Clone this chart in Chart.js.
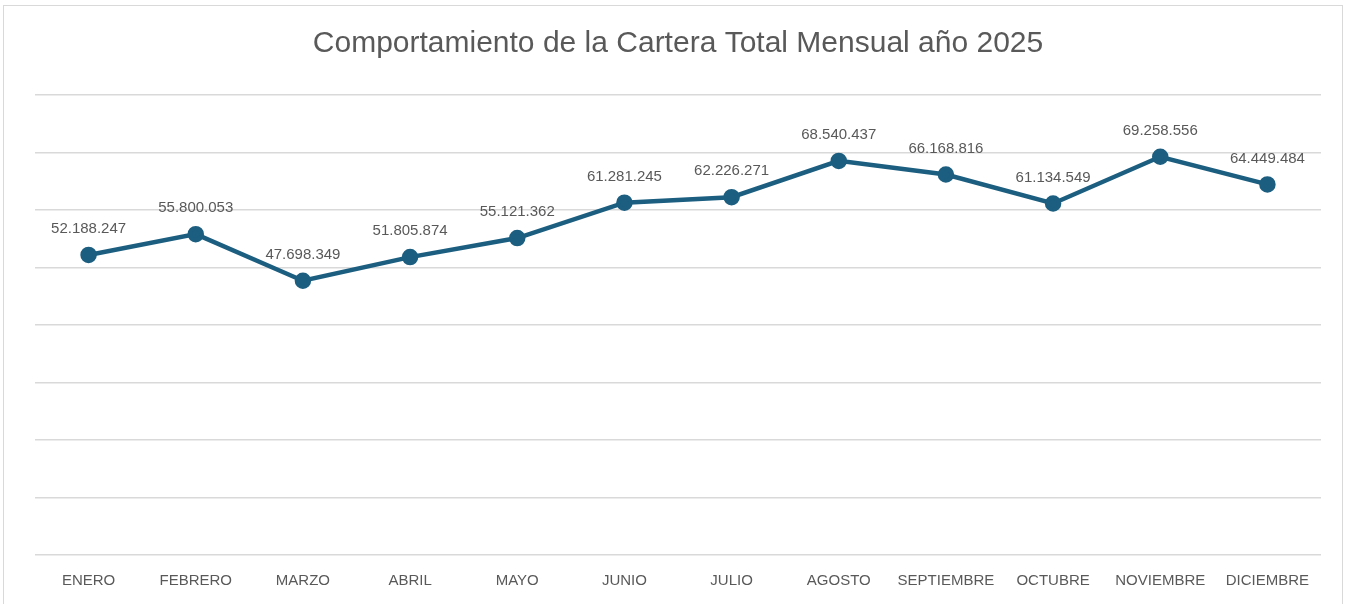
<!DOCTYPE html>
<html>
<head>
<meta charset="utf-8">
<script src="https://cdn.jsdelivr.net/npm/chart.js@4/dist/chart.umd.min.js"></script>
<style>
html,body{margin:0;padding:0;background:#fff;overflow:hidden;}
#wrap{position:absolute;left:0;top:0;width:1348px;height:604px;}
#frame{position:absolute;left:3px;top:5px;width:1340px;height:604px;border:1px solid #d9d9d9;box-sizing:border-box;pointer-events:none;}
canvas{display:block;}
</style>
</head>
<body>
<div id="wrap"><canvas id="c" width="1348" height="604"></canvas></div>
<div id="frame"></div>
<script>
const categories = ["ENERO","FEBRERO","MARZO","ABRIL","MAYO","JUNIO","JULIO","AGOSTO","SEPTIEMBRE","OCTUBRE","NOVIEMBRE","DICIEMBRE"];
const values = [52188247,55800053,47698349,51805874,55121362,61281245,62226271,68540437,66168816,61134549,69258556,64449484];
const yMin = 0, yMax = 80000000, yStep = 10000000;
const titleText = "Comportamiento de la Cartera Total Mensual año 2025";

function fmt(v){return String(v).replace(/\B(?=(\d{3})+(?!\d))/g,".");}

const labelPlugin = {
  id:'dl',
  afterDatasetsDraw(chart){
    const ctx = chart.ctx;
    const meta = chart.getDatasetMeta(0);
    ctx.save();
    ctx.font = '15px "Liberation Sans", Arial, sans-serif';
    ctx.fillStyle = '#595959';
    ctx.textAlign = 'center';
    ctx.textBaseline = 'middle';
    meta.data.forEach((pt,i)=>{
      ctx.fillText(fmt(values[i]), pt.x, pt.y - 26);
    });
    ctx.restore();
  }
};

new Chart(document.getElementById('c'), {
  type:'line',
  data:{labels:categories, datasets:[{
    data:values,
    borderColor:'#1b5e80',
    backgroundColor:'#1b5e80',
    borderWidth:4.5,
    pointRadius:6,
    pointHoverRadius:6,
    pointBackgroundColor:'#1b5e80',
    pointBorderColor:'#1b5e80',
    tension:0,
    clip:false
  }]},
  options:{
    responsive:false,
    animation:false,
    events:[],
    layout:{padding:{left:35,right:27,top:0,bottom:-3}},
    plugins:{
      legend:{display:false},
      tooltip:{enabled:false},
      title:{display:true,text:titleText,color:'#595959',
        font:{family:'"Liberation Sans Narrow", "Liberation Sans", Arial, sans-serif',size:30,weight:'normal'},
        padding:{top:26,bottom:33}}
    },
    scales:{
      x:{offset:true,
        grid:{display:false,drawTicks:false},
        border:{display:false},
        ticks:{color:'#595959',padding:17,maxRotation:0,autoSkip:false,
          font:{family:'"Liberation Sans", Arial, sans-serif',size:15}}},
      y:{min:yMin,max:yMax,
        ticks:{display:false,stepSize:yStep},
        grid:{color:'#d9d9d9',lineWidth:1.5,drawTicks:false},
        border:{display:false}}
    }
  },
  plugins:[labelPlugin]
});
</script>
</body>
</html>
